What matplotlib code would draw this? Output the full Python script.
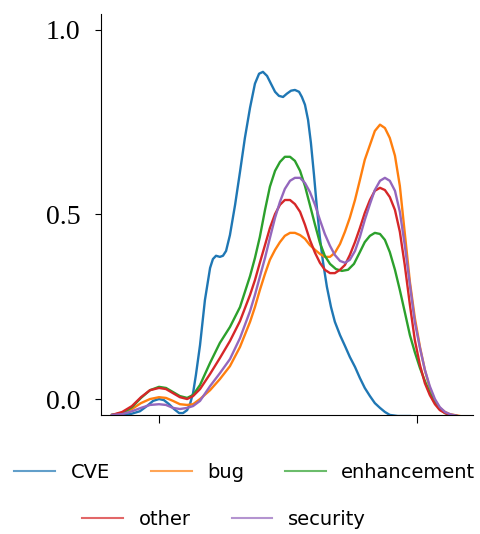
import matplotlib
matplotlib.use("Agg")

import matplotlib.pyplot as plt
from matplotlib.lines import Line2D

# ── Data (density curves) ───────────────────────────────────────────────────
series_names = ["CVE", "bug", "enhancement", "other", "security"]
series_colors = ["#1f77b4", "#ff7f0e", "#2ca02c", "#d62728", "#9467bd"]

cve_x = [-0.182, -0.151, -0.112, -0.074, -0.047, -0.023, 0.0, 0.019, 0.039, 0.058,
         0.078, 0.093, 0.109, 0.120, 0.132, 0.143, 0.159, 0.178, 0.198, 0.209,
         0.221, 0.236, 0.248, 0.260, 0.275, 0.295, 0.314, 0.333, 0.353, 0.372,
         0.388, 0.403, 0.419, 0.434, 0.450, 0.465, 0.481, 0.496, 0.512, 0.527,
         0.543, 0.554, 0.566, 0.578, 0.589, 0.601, 0.612, 0.624, 0.636, 0.651,
         0.667, 0.682, 0.702, 0.721, 0.740, 0.760, 0.779, 0.798, 0.818, 0.837,
         0.857, 0.876, 0.895, 0.926, 0.973]
cve_y = [-0.043, -0.043, -0.041, -0.033, -0.019, -0.005, 0.0, -0.003, -0.014, -0.027,
         -0.038, -0.038, -0.030, -0.014, 0.016, 0.065, 0.146, 0.268, 0.355, 0.379,
         0.388, 0.385, 0.388, 0.401, 0.444, 0.526, 0.615, 0.707, 0.789, 0.854,
         0.881, 0.886, 0.875, 0.854, 0.832, 0.821, 0.818, 0.827, 0.835, 0.837,
         0.832, 0.818, 0.797, 0.756, 0.694, 0.607, 0.520, 0.436, 0.371, 0.304,
         0.249, 0.209, 0.173, 0.144, 0.114, 0.087, 0.057, 0.030, 0.008, -0.011,
         -0.024, -0.035, -0.043, -0.046, -0.046]

bug_x = [-0.182, -0.143, -0.105, -0.070, -0.035, 0.0, 0.027, 0.054, 0.081, 0.109,
         0.132, 0.159, 0.198, 0.236, 0.275, 0.314, 0.353, 0.372, 0.391, 0.411,
         0.430, 0.450, 0.469, 0.488, 0.508, 0.527, 0.547, 0.566, 0.585, 0.605,
         0.624, 0.643, 0.663, 0.682, 0.702, 0.721, 0.740, 0.760, 0.779, 0.798,
         0.818, 0.837, 0.857, 0.876, 0.895, 0.915, 0.934, 0.953, 0.973, 0.992,
         1.012, 1.031, 1.050, 1.070, 1.089, 1.109, 1.128, 1.167]
bug_y = [-0.043, -0.038, -0.027, -0.011, 0.0, 0.005, 0.003, -0.005, -0.014, -0.016,
         -0.014, 0.0, 0.024, 0.054, 0.089, 0.141, 0.209, 0.249, 0.295, 0.339,
         0.377, 0.404, 0.425, 0.442, 0.450, 0.450, 0.444, 0.434, 0.417, 0.404,
         0.393, 0.385, 0.385, 0.396, 0.420, 0.453, 0.491, 0.539, 0.593, 0.648,
         0.688, 0.726, 0.743, 0.734, 0.707, 0.659, 0.577, 0.450, 0.317, 0.220,
         0.141, 0.079, 0.030, -0.005, -0.024, -0.035, -0.041, -0.046]

enh_x = [-0.182, -0.143, -0.105, -0.070, -0.035, 0.0, 0.027, 0.054, 0.081, 0.109,
         0.132, 0.159, 0.198, 0.236, 0.275, 0.314, 0.353, 0.372, 0.391, 0.411,
         0.430, 0.450, 0.469, 0.488, 0.508, 0.527, 0.547, 0.566, 0.585, 0.605,
         0.624, 0.643, 0.663, 0.686, 0.709, 0.733, 0.756, 0.779, 0.798, 0.818,
         0.837, 0.857, 0.876, 0.895, 0.915, 0.934, 0.953, 0.973, 0.992, 1.012,
         1.031, 1.050, 1.070, 1.089, 1.109, 1.128, 1.155]
enh_y = [-0.043, -0.038, -0.022, 0.003, 0.024, 0.033, 0.030, 0.019, 0.008, 0.003,
         0.011, 0.038, 0.098, 0.152, 0.195, 0.249, 0.333, 0.382, 0.439, 0.512,
         0.575, 0.618, 0.642, 0.656, 0.656, 0.645, 0.618, 0.577, 0.526, 0.472,
         0.423, 0.388, 0.366, 0.352, 0.347, 0.350, 0.366, 0.398, 0.425, 0.442,
         0.450, 0.447, 0.431, 0.398, 0.350, 0.295, 0.236, 0.173, 0.127, 0.084,
         0.049, 0.016, -0.008, -0.027, -0.038, -0.043, -0.046]

other_x = [-0.182, -0.143, -0.105, -0.070, -0.035, 0.0, 0.027, 0.054, 0.081, 0.109,
           0.132, 0.159, 0.198, 0.236, 0.275, 0.314, 0.353, 0.372, 0.391, 0.411,
           0.430, 0.450, 0.469, 0.488, 0.508, 0.527, 0.547, 0.566, 0.585, 0.605,
           0.624, 0.643, 0.663, 0.682, 0.702, 0.721, 0.740, 0.760, 0.779, 0.798,
           0.818, 0.837, 0.857, 0.876, 0.895, 0.915, 0.934, 0.953, 0.973, 0.992,
           1.012, 1.031, 1.050, 1.070, 1.089, 1.109, 1.128, 1.155]
other_y = [-0.043, -0.035, -0.019, 0.005, 0.024, 0.030, 0.027, 0.016, 0.005, 0.0,
           0.008, 0.027, 0.068, 0.111, 0.157, 0.211, 0.282, 0.322, 0.369, 0.417,
           0.463, 0.501, 0.526, 0.539, 0.539, 0.528, 0.507, 0.472, 0.431, 0.396,
           0.369, 0.350, 0.341, 0.341, 0.350, 0.363, 0.390, 0.425, 0.463, 0.504,
           0.539, 0.564, 0.572, 0.566, 0.547, 0.512, 0.453, 0.363, 0.255, 0.160,
           0.092, 0.043, 0.011, -0.014, -0.030, -0.038, -0.043, -0.046]

sec_x = [-0.182, -0.143, -0.105, -0.070, -0.035, 0.0, 0.027, 0.054, 0.081, 0.109,
         0.132, 0.159, 0.198, 0.236, 0.275, 0.314, 0.353, 0.372, 0.391, 0.411,
         0.430, 0.450, 0.469, 0.488, 0.508, 0.527, 0.547, 0.566, 0.585, 0.605,
         0.624, 0.643, 0.663, 0.682, 0.702, 0.721, 0.740, 0.760, 0.779, 0.798,
         0.818, 0.837, 0.857, 0.876, 0.895, 0.915, 0.934, 0.953, 0.973, 0.992,
         1.012, 1.031, 1.050, 1.070, 1.089, 1.109, 1.128, 1.159]
sec_y = [-0.043, -0.041, -0.033, -0.024, -0.016, -0.014, -0.016, -0.024, -0.027, -0.024,
         -0.019, -0.005, 0.035, 0.070, 0.108, 0.165, 0.238, 0.282, 0.331, 0.382,
         0.436, 0.491, 0.534, 0.569, 0.591, 0.599, 0.599, 0.585, 0.561, 0.526,
         0.485, 0.447, 0.415, 0.390, 0.374, 0.369, 0.377, 0.401, 0.439, 0.485,
         0.528, 0.566, 0.591, 0.599, 0.591, 0.564, 0.507, 0.417, 0.309, 0.209,
         0.138, 0.079, 0.035, 0.0, -0.022, -0.035, -0.041, -0.046]

all_x = [cve_x, bug_x, enh_x, other_x, sec_x]
all_y = [cve_y, bug_y, enh_y, other_y, sec_y]

y_ticks = [0.0, 0.5, 1.0]
x_ticks = [0.0, 1.0]

# ── Figure ──────────────────────────────────────────────────────────────────
fig = plt.figure(figsize=(4.81, 5.34), dpi=100)
ax = fig.add_axes([0.210, 0.223, 0.773, 0.751])

for xs, ys, c in zip(all_x, all_y, series_colors):
    ax.plot(xs, ys, color=c, linewidth=1.7, solid_joinstyle="round")

ax.set_xlim(-0.225, 1.217)
ax.set_ylim(-0.043, 1.043)
ax.spines["top"].set_visible(False)
ax.spines["right"].set_visible(False)
ax.set_yticks(y_ticks)
ax.set_yticklabels([f"{v:.1f}" for v in y_ticks], family="Liberation Serif", fontsize=20)
ax.set_xticks(x_ticks)
ax.set_xticklabels([])
ax.tick_params(axis="y", length=4, width=0.8, pad=11)
ax.tick_params(axis="x", length=6, width=0.8)

# legend in two centred rows: 3 + 2
handles = [Line2D([], [], color=c, linewidth=1.5, alpha=0.7) for c in series_colors]
leg_kw = dict(frameon=False, fontsize=14, handlelength=2.1, handletextpad=0.8,
              columnspacing=2.1, loc="center")
fig.legend(handles[:3], series_names[:3], ncol=3,
           bbox_to_anchor=(0.509, 0.116), **leg_kw)
fig.legend(handles[3:], series_names[3:], ncol=2,
           bbox_to_anchor=(0.466, 0.027), **leg_kw)

plt.savefig("out.png", dpi=100)
plt.close()
